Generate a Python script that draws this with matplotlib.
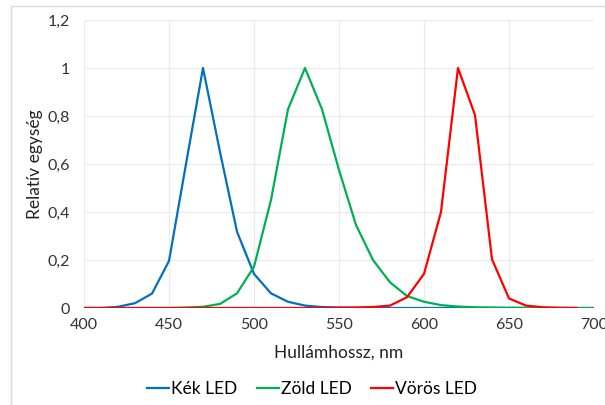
import matplotlib
matplotlib.use("Agg")
import matplotlib.pyplot as plt
from matplotlib.patches import Rectangle
from matplotlib.ticker import FuncFormatter

wavelength = list(range(400, 701, 10))
blue = [0, 0, 0.005, 0.02, 0.06, 0.196, 0.6, 1.0, 0.65, 0.318, 0.142, 0.061, 0.026, 0.01,
        0.004, 0.002, 0.001, 0.001, 0, 0, 0, 0, 0, 0, 0, 0, 0, 0, 0, 0, 0]
green = [0, 0, 0, 0, 0, 0, 0.002, 0.005, 0.017, 0.061, 0.172, 0.45, 0.828, 1.0, 0.828,
         0.575, 0.346, 0.2, 0.107, 0.05, 0.026, 0.012, 0.006, 0.003, 0.002, 0.001, 0.001,
         0, 0, 0, 0]
red_wl = list(range(400, 691, 10))
red = [0, 0, 0, 0, 0, 0, 0, 0, 0, 0, 0, 0, 0, 0, 0, 0.001, 0.002, 0.004, 0.01, 0.045,
       0.142, 0.40, 1.0, 0.804, 0.203, 0.04, 0.01, 0.003, 0.001, 0]

series_labels = ["Kék LED", "Zöld LED", "Vörös LED"]
x_ticks = [400, 450, 500, 550, 600, 650, 700]
y_ticks = [0, 0.2, 0.4, 0.6, 0.8, 1.0, 1.2]

plt.rcParams['font.family'] = ['Lato', 'DejaVu Sans']

fig = plt.figure(figsize=(6.05, 4.05), dpi=100)
ax = fig.add_axes([84/605, 1-308/405, 510/605, 288/405])

ax.plot(wavelength, blue, color="#0070C0", lw=1.6, label=series_labels[0])
ax.plot(wavelength, green, color="#00B050", lw=1.6, label=series_labels[1])
ax.plot(red_wl, red, color="#FF0000", lw=1.6, label=series_labels[2])

ax.set_xlim(400, 700)
ax.set_ylim(0, 1.2)
ax.set_xticks(x_ticks)
ax.set_yticks(y_ticks)
fmt = FuncFormatter(lambda v, p: ("%g" % v).replace(".", ","))
ax.yaxis.set_major_formatter(fmt)
ax.xaxis.set_major_formatter(fmt)
ax.grid(True, color="#ebebeb", lw=0.9)
ax.set_axisbelow(True)
for s in ax.spines.values():
    s.set_visible(False)
ax.tick_params(length=0, labelsize=11.5, colors="#333333", pad=7)
ax.tick_params(axis='y', pad=10)
ax.set_xlabel("Hullámhossz, nm", fontsize=12.5, color="#222222", labelpad=9)
ax.set_ylabel("Relatív egység", fontsize=12.5, color="#222222", labelpad=3)

fig.legend(loc="center", bbox_to_anchor=(312/605, 1-389/405), ncol=3, frameon=False,
           fontsize=12.5, handlelength=1.3, handletextpad=0.1, columnspacing=1.1)

fig.patches.append(Rectangle((11/605, -0.1), 1.2, (1-6/405)+0.1, transform=fig.transFigure,
                             fill=False, edgecolor="#d9d9d9", lw=1))

fig.savefig("out.png", dpi=100)
